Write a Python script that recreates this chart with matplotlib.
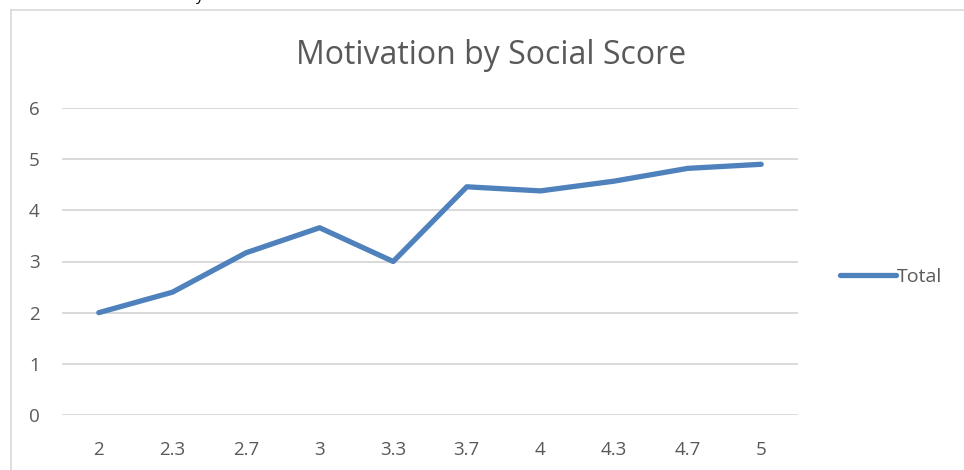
import matplotlib
matplotlib.use("Agg")
from matplotlib import pyplot as plt
from matplotlib.lines import Line2D

# data
categories = ["2", "2.3", "2.7", "3", "3.3", "3.7", "4", "4.3", "4.7", "5"]
total = [2.0, 2.4, 3.17, 3.66, 3.0, 4.46, 4.38, 4.57, 4.82, 4.90]
y_ticks = [0, 1, 2, 3, 4, 5, 6]

LINE_COLOR = "#4F81BD"
GRID_COLOR = "#D9D9D9"
TEXT_COLOR = "#595959"

plt.rcParams["font.family"] = ["Open Sans", "DejaVu Sans"]

fig = plt.figure(figsize=(9.64, 4.70), dpi=100)
ax = fig.add_axes([62 / 964, 1 - 415 / 470, 736 / 964, 307 / 470])

x = list(range(len(categories)))
ax.plot(x, total, color=LINE_COLOR, linewidth=3.8, solid_capstyle="round",
        solid_joinstyle="round", label="Total", zorder=3)

ax.set_xlim(-0.5, len(categories) - 0.5)
ax.set_ylim(0, 6)
ax.set_xticks(x)
ax.set_xticklabels(categories)
ax.set_yticks(y_ticks)
ax.grid(axis="y", color=GRID_COLOR, linewidth=1.4)
ax.set_axisbelow(True)
for s in ax.spines.values():
    s.set_visible(False)
ax.tick_params(axis="both", length=0, labelsize=13.5, labelcolor=TEXT_COLOR)
ax.tick_params(axis="x", pad=19)
ax.tick_params(axis="y", pad=16)

fig.text(491 / 964, 1 - 56 / 470, "Motivation by Social Score", ha="center",
         va="center", fontsize=23, color=TEXT_COLOR)

leg = ax.legend(loc="center left", bbox_to_anchor=(1.033, 0.45), frameon=False,
                fontsize=14, handlelength=2.9, handletextpad=0.05)
for t in leg.get_texts():
    t.set_color(TEXT_COLOR)

# chart frame (only top and left edges are visible in the crop)
fig.add_artist(Line2D([10.5 / 964, 1], [1 - 9.5 / 470, 1 - 9.5 / 470],
                      color=GRID_COLOR, linewidth=1.2))
fig.add_artist(Line2D([10.5 / 964, 10.5 / 964], [0, 1 - 9.5 / 470],
                      color=GRID_COLOR, linewidth=1.2))

# clipped descender of text above the chart
fig.text(200 / 964, 1.0, "y", ha="center", va="baseline", fontsize=11, color="black")

fig.savefig("out.png", dpi=100)
